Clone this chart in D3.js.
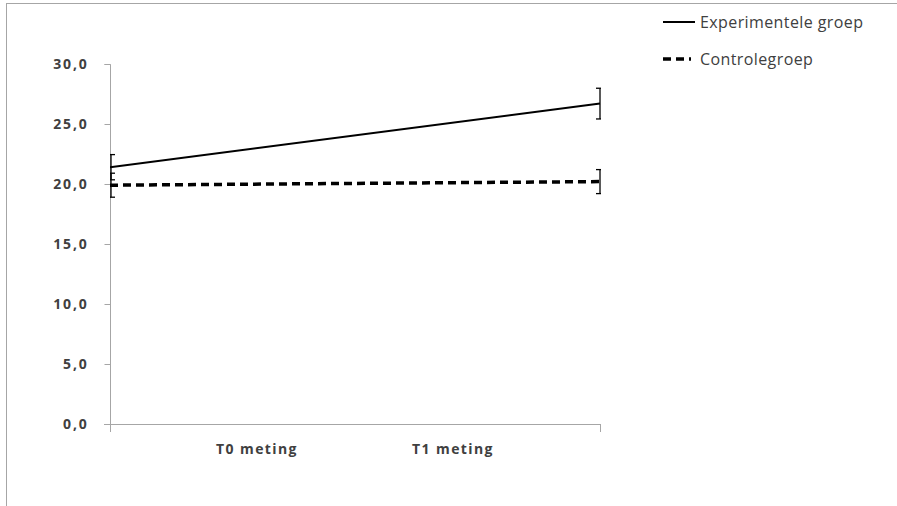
<!DOCTYPE html>
<html><head><meta charset="utf-8">
<script src="https://cdn.jsdelivr.net/npm/d3@7"></script>
<style>
html,body{margin:0;padding:0;background:#fff;}
svg{display:block;}
text{font-family:"Open Sans","Noto Sans",sans-serif;}
</style></head>
<body><svg id="c" width="897" height="506"></svg>
<script>
const categories = ["T0 meting", "T1 meting"];
const seriesNames = ["Experimentele groep", "Controlegroep"];
const experimentele = [21.4, 26.7];
const experimenteleErr = [1.05, 1.28];
const controle = [19.9, 20.2];
const controleErr = [1.0, 1.0];
const yTicks = [0, 5, 10, 15, 20, 25, 30];

const svg = d3.select("#c");
const W = 897, H = 506;
const plot = {left: 110, right: 600, top: 64, bottom: 424};

// outer frame
svg.append("rect").attr("x", 6.5).attr("y", 3.5).attr("width", W + 10).attr("height", H + 10)
  .attr("fill", "none").attr("stroke", "#a6a6a6").attr("stroke-width", 1);

const y = d3.scaleLinear().domain([0, 30]).range([plot.bottom, plot.top]);
const xPt = d3.scalePoint().domain(categories).range([plot.left, plot.right]).padding(0);
const xLbl = d3.scalePoint().domain(categories).range([plot.left, plot.right]).padding(0.75);

// y axis
const yAxis = svg.append("g").attr("transform", `translate(${plot.left + 0.5},0)`)
  .call(d3.axisLeft(y).tickValues(yTicks).tickSize(6).tickPadding(16)
    .tickFormat(d => d3.format(".1f")(d).replace(".", ",")));
yAxis.select(".domain").attr("stroke", "#a6a6a6").attr("d", `M-6,${y(30)+0.5}H0V${y(0)+0.5}`);
yAxis.selectAll(".tick line").attr("stroke", "#a6a6a6");
yAxis.selectAll(".tick text").attr("fill", "#404040").attr("font-size", 14)
  .attr("font-weight", "bold").attr("letter-spacing", "1.8px");

// x axis
const xg = svg.append("g");
xg.append("line").attr("x1", plot.left - 6).attr("x2", plot.right)
  .attr("y1", y(0) + 0.5).attr("y2", y(0) + 0.5).attr("stroke", "#a6a6a6");
xg.selectAll("line.tk").data(categories).join("line").attr("class", "tk")
  .attr("x1", (d, i) => (i === 0 ? plot.left : plot.right) + 0.5)
  .attr("x2", (d, i) => (i === 0 ? plot.left : plot.right) + 0.5)
  .attr("y1", y(0)).attr("y2", y(0) + 8).attr("stroke", "#a6a6a6");
xg.selectAll("text").data(categories).join("text")
  .attr("x", d => xLbl(d)).attr("y", y(0) + 30)
  .attr("text-anchor", "middle").attr("fill", "#404040")
  .attr("font-size", 14).attr("font-weight", "bold").attr("letter-spacing", "1.4px")
  .text(d => d);

// clip for plot
svg.append("clipPath").attr("id", "pc").append("rect")
  .attr("x", plot.left).attr("y", 0).attr("width", plot.right - plot.left + 1).attr("height", H);

const series = [
  {name: seriesNames[0], vals: experimentele, err: experimenteleErr, dash: null, w: 2},
  {name: seriesNames[1], vals: controle, err: controleErr, dash: "8,5", w: 3.5}
];
const g = svg.append("g").attr("clip-path", "url(#pc)");
const line = d3.line().x((d, i) => xPt(categories[i])).y(d => y(d));
series.forEach(s => {
  g.append("path").datum(s.vals).attr("d", line).attr("fill", "none")
    .attr("stroke", "#000").attr("stroke-width", s.w)
    .attr("stroke-dasharray", s.dash);
  s.vals.forEach((v, i) => {
    const cx = xPt(categories[i]) + (i === 0 ? 1 : 0);
    const e = s.err[i];
    g.append("line").attr("x1", cx).attr("x2", cx).attr("y1", y(v + e)).attr("y2", y(v - e))
      .attr("stroke", "#000").attr("stroke-width", 1.3);
    [v + e, v - e].forEach(t => {
      g.append("line").attr("x1", cx - 4).attr("x2", cx + 4).attr("y1", y(t)).attr("y2", y(t))
        .attr("stroke", "#000").attr("stroke-width", 1.3);
    });
  });
});

// legend
const lg = svg.append("g");
series.forEach((s, i) => {
  const ly = 22 + i * 37;
  lg.append("line").attr("x1", 663).attr("x2", s.dash ? 691 : 695).attr("y1", ly).attr("y2", ly)
    .attr("stroke", "#000").attr("stroke-width", s.w).attr("stroke-dasharray", s.dash);
  lg.append("text").attr("x", 700).attr("y", ly + 6).attr("fill", "#404040")
    .attr("font-size", 16).attr("letter-spacing", "0.4px").text(s.name);
});
</script></body></html>
